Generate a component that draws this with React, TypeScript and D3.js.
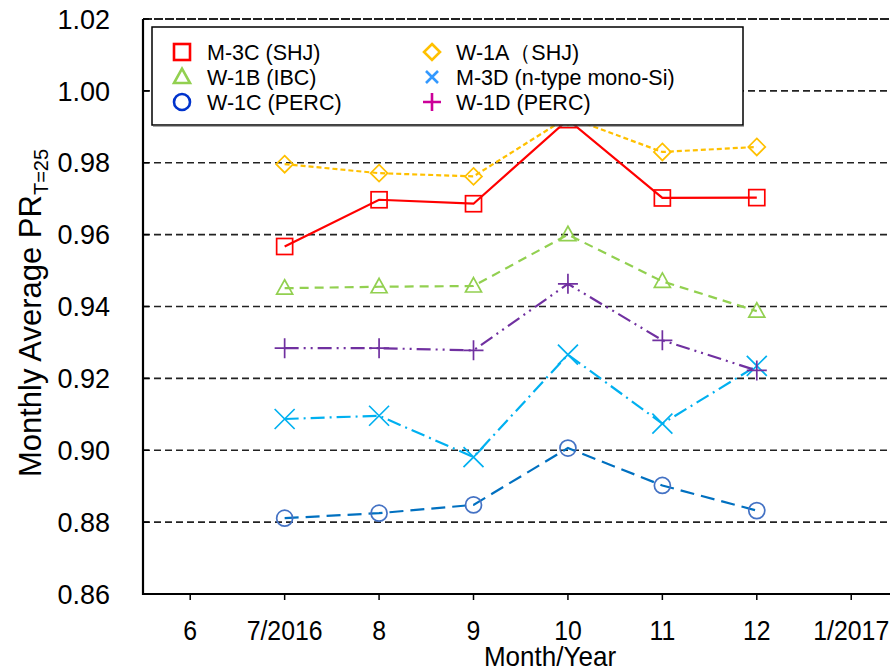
import React from "react";
import * as d3 from "d3";

const months = [7, 8, 9, 10, 11, 12];
const xTickValues = [6, 7, 8, 9, 10, 11, 12, 13];
const xTickLabels = ["6", "7/2016", "8", "9", "10", "11", "12", "1/2017"];
const yTickValues = [0.86, 0.88, 0.9, 0.92, 0.94, 0.96, 0.98, 1.0, 1.02];

const m3c = [0.9567, 0.9697, 0.9686, 0.992, 0.9702, 0.9703];
const w1a = [0.9796, 0.9771, 0.9762, 0.9927, 0.983, 0.9844];
const w1b = [0.9451, 0.9455, 0.9457, 0.96, 0.947, 0.9387];
const w1d = [0.9284, 0.9284, 0.9278, 0.9463, 0.9306, 0.9222];
const m3d = [0.9087, 0.9096, 0.8981, 0.9266, 0.9074, 0.9235];
const w1c = [0.8811, 0.8825, 0.8848, 0.9006, 0.8902, 0.8832];

type Series = {
  name: string;
  values: number[];
  color: string;
  markerColor: string;
  legendColor: string;
  dash: string;
  marker: string;
};

const series: Series[] = [
  { name: "W-1C (PERC)", values: w1c, color: "#0070C0", markerColor: "#4472C4", legendColor: "#0033CC", dash: "14,7", marker: "circle" },
  { name: "M-3D (n-type mono-Si)", values: m3d, color: "#00B0F0", markerColor: "#00B0F0", legendColor: "#3399FF", dash: "14,5,2,5", marker: "x" },
  { name: "W-1D (PERC)", values: w1d, color: "#7030A0", markerColor: "#7030A0", legendColor: "#CC0099", dash: "14,5,2,5,2,5", marker: "plus" },
  { name: "W-1B (IBC)", values: w1b, color: "#92D050", markerColor: "#92D050", legendColor: "#92D050", dash: "9,6", marker: "triangle" },
  { name: "M-3C (SHJ)", values: m3c, color: "#FF0000", markerColor: "#FF0000", legendColor: "#FF0000", dash: "", marker: "square" },
  { name: "W-1A（SHJ)", values: w1a, color: "#FFC000", markerColor: "#FFC000", legendColor: "#FFC000", dash: "5,3", marker: "diamond" },
];

const legendOrder = [
  ["M-3C (SHJ)", "W-1A（SHJ)"],
  ["W-1B (IBC)", "M-3D (n-type mono-Si)"],
  ["W-1C (PERC)", "W-1D (PERC)"],
];

const W = 890;
const H = 672;
const left = 143;
const top = 19;
const bottom = 594;

function Marker({ type, x, y, color, size, sw }: { type: string; x: number; y: number; color: string; size: number; sw: number }) {
  const h = size / 2;
  switch (type) {
    case "circle":
      return <circle cx={x} cy={y} r={h} fill="none" stroke={color} strokeWidth={sw} />;
    case "square":
      return <rect x={x - h} y={y - h} width={size} height={size} fill="none" stroke={color} strokeWidth={sw} />;
    case "diamond":
      return <path d={`M${x},${y - h}L${x + h},${y}L${x},${y + h}L${x - h},${y}Z`} fill="none" stroke={color} strokeWidth={sw} />;
    case "triangle":
      return <path d={`M${x},${y - h * 1.05}L${x + h},${y + h * 0.75}L${x - h},${y + h * 0.75}Z`} fill="none" stroke={color} strokeWidth={sw} />;
    case "x":
      return <path d={`M${x - h},${y - h}L${x + h},${y + h}M${x - h},${y + h}L${x + h},${y - h}`} fill="none" stroke={color} strokeWidth={sw} />;
    case "plus":
      return <path d={`M${x - h},${y}L${x + h},${y}M${x},${y - h}L${x},${y + h}`} fill="none" stroke={color} strokeWidth={sw} />;
  }
  return null;
}

export default function App() {
  const x = d3.scaleLinear().domain([5.5, 13.5]).range([left, left + 8 * 94.43]);
  const y = d3.scaleLinear().domain([0.86, 1.02]).range([bottom, top]);
  const line = d3
    .line<[number, number]>()
    .x((d) => x(d[0]))
    .y((d) => y(d[1]));
  const font = "Arial, 'Liberation Sans', sans-serif";
  const byName = (n: string) => series.find((s) => s.name === n)!;

  return (
    <svg width={W} height={H} style={{ position: "absolute", left: 0, top: 0, background: "#fff" }} fontFamily={font}>
      <rect x={0} y={0} width={W} height={H} fill="#fff" />
      {/* gridlines */}
      {yTickValues.slice(1).map((v) => (
        <line key={v} x1={left} x2={W} y1={y(v)} y2={y(v)} stroke="#222" strokeWidth={v === 1.02 ? 2.2 : 1.6} strokeDasharray={v === 1.02 ? "9,2" : "7,4"} />
      ))}
      {/* series */}
      {series.map((s) => {
        const pts = months.map((m, i) => [m, s.values[i]] as [number, number]);
        const size = s.marker === "x" || s.marker === "plus" ? 20 : s.marker === "diamond" ? 17 : 16;
        return (
          <g key={s.name}>
            <path d={line(pts) || ""} fill="none" stroke={s.color} strokeWidth={2.2} strokeDasharray={s.dash || undefined} />
            {pts.map((p, i) => (
              <Marker key={i} type={s.marker} x={x(p[0])} y={y(p[1])} color={s.markerColor} size={size} sw={1.7} />
            ))}
          </g>
        );
      })}
      {/* axes */}
      <line x1={left} x2={left} y1={top} y2={bottom + 1} stroke="#000" strokeWidth={2.2} />
      <line x1={left - 1} x2={W} y1={bottom} y2={bottom} stroke="#000" strokeWidth={2.2} />
      {yTickValues.map((v) => (
        <g key={v}>
          <line x1={left} x2={left + 6} y1={y(v)} y2={y(v)} stroke="#000" strokeWidth={1.5} />
          <text x={110} y={y(v)} dy="0.36em" textAnchor="end" fontSize={27} fill="#000">
            {v.toFixed(2)}
          </text>
        </g>
      ))}
      {xTickValues.map((v, i) => (
        <g key={v}>
          <line x1={x(v)} x2={x(v)} y1={bottom} y2={bottom + 6} stroke="#000" strokeWidth={1.5} />
          <text transform={`translate(${x(v)},640) scale(0.92,1)`} textAnchor="middle" fontSize={27} fill="#000">
            {xTickLabels[i]}
          </text>
        </g>
      ))}
      <text transform={`translate(550,666) scale(0.93,1)`} textAnchor="middle" fontSize={28} fill="#000">
        Month/Year
      </text>
      <text transform={`translate(41,313) rotate(-90)`} textAnchor="middle" fontSize={31} fill="#000">
        Monthly Average PR
        <tspan fontSize={20} dy={7}>
          T=25
        </tspan>
      </text>
      {/* legend */}
      <rect x={152} y={27} width={591} height={98} fill="#fff" stroke="#000" strokeWidth={1.5} />
      <line x1={153} x2={744} y1={126} y2={126} stroke="#555" strokeWidth={1.2} />
      {legendOrder.map((row, r) =>
        row.map((name, c) => {
          const s = byName(name);
          const mx = c === 0 ? 182 : 432;
          const tx = c === 0 ? 207 : 456;
          const yy = 52 + r * 25;
          const size = s.marker === "x" ? 12 : s.marker === "plus" ? 18 : 16;
          return (
            <g key={name}>
              <Marker type={s.marker} x={mx} y={yy} color={s.legendColor} size={size} sw={2.6} />
              <text x={tx} y={yy} dy="0.36em" fontSize={21.5} fill="#000">
                {name}
              </text>
            </g>
          );
        })
      )}
    </svg>
  );
}
